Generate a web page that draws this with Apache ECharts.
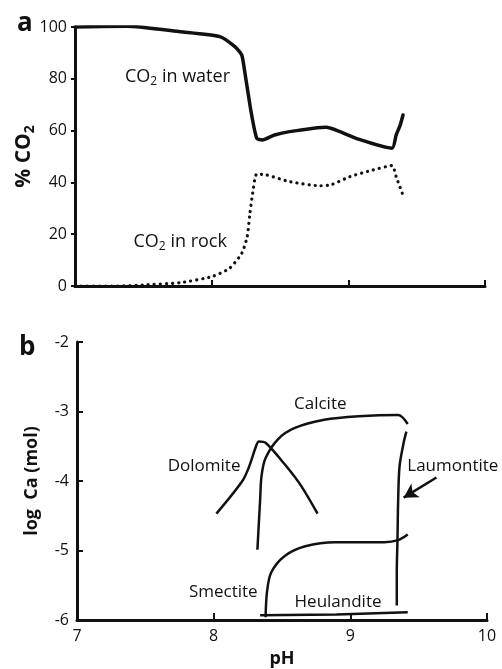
<!DOCTYPE html>
<html>
<head>
<meta charset="utf-8">
<script src="https://cdn.jsdelivr.net/npm/echarts@6/dist/echarts.min.js"></script>
<style>
  html, body { margin: 0; padding: 0; background: #fff; }
  #chart { width: 502px; height: 669px; }
</style>
</head>
<body>
<div id="chart"></div>
<script>
// Panel a: share of CO2 held in water vs. trapped in rock, against pH
const waterPH  = [7.00, 7.38, 7.77, 8.06, 8.17, 8.22, 8.24, 8.29, 8.33, 8.37, 8.46, 8.57, 8.84, 8.91, 9.08, 9.32, 9.35, 9.38, 9.40];
const waterPct = [100, 100.3, 98.2, 96.3, 92.4, 89.2, 83.4, 66.8, 57.0, 56.4, 58.3, 59.6, 61.3, 60.2, 56.6, 53.2, 58.3, 62.2, 66.0];

const rockPH  = [7.00, 7.30, 7.50, 7.77, 8.00, 8.13, 8.22, 8.26, 8.28, 8.30, 8.33, 8.40, 8.57, 8.79, 8.87, 9.01, 9.18, 9.32, 9.35, 9.40];
const rockPct = [0, 0, 0.4, 1.3, 3.6, 6.8, 12.6, 19.0, 28.0, 35.8, 43.2, 42.9, 40.3, 38.7, 39.0, 42.2, 44.8, 46.5, 42.2, 35.0];

// Panel b: log Ca (mol) for each mineral
const dolomitePH = [8.02, 8.21, 8.26, 8.31, 8.33, 8.38, 8.52, 8.64, 8.76];
const dolomiteCa = [-4.47, -4.00, -3.79, -3.50, -3.43, -3.45, -3.76, -4.07, -4.47];

const calcitePH = [8.32, 8.34, 8.35, 8.38, 8.47, 8.59, 8.81, 9.06, 9.35, 9.42];
const calciteCa = [-4.99, -4.27, -3.93, -3.67, -3.40, -3.24, -3.12, -3.07, -3.05, -3.18];

const laumontitePH = [9.34, 9.34, 9.345, 9.35, 9.36, 9.39, 9.41];
const laumontiteCa = [-5.79, -5.30, -4.84, -4.27, -3.79, -3.45, -3.29];

const smectitePH = [8.38, 8.39, 8.42, 8.52, 8.67, 8.89, 9.25, 9.35, 9.42];
const smectiteCa = [-5.96, -5.60, -5.32, -5.08, -4.94, -4.88, -4.88, -4.85, -4.77];

const heulanditePH = [8.34, 8.90, 9.42];
const heulanditeCa = [-5.93, -5.92, -5.89];

// Curve labels, placed in data coordinates
const topLabels = [
  { name: 'water', pos: [7.75, 80.7] },
  { name: 'rock',  pos: [7.77, 17.0] }
];
const bottomLabels = [
  { name: 'Calcite',    pos: [8.78, -2.89] },
  { name: 'Dolomite',   pos: [7.93, -3.79] },
  { name: 'Laumontite', pos: [9.75, -3.79] },
  { name: 'Smectite',   pos: [8.07, -5.60] },
  { name: 'Heulandite', pos: [8.91, -5.74] }
];
// Arrow pointing at the Laumontite curve
const arrowFrom = [9.63, -3.95];
const arrowTo   = [9.39, -4.24];

const xTicks = { min: 7, max: 10, interval: 1 };

const zip = (xs, ys) => xs.map((x, i) => [x, ys[i]]);

const INK = '#111';
const FONT = '"Open Sans", "Noto Sans", sans-serif';
const labelText = { fontFamily: FONT, fontSize: 17, color: INK, textBorderWidth: 0, opacity: 1 };

const chart = echarts.init(document.getElementById('chart'), null, { renderer: 'canvas' });

const axisLine = { lineStyle: { color: INK, width: 3 } };
const axisLabel = { color: INK, fontFamily: FONT, fontSize: 16 };

// Text anchored at its data point, centred on it
const centred = { show: true, position: [0, 0], align: 'center', verticalAlign: 'middle' };

const panelLetter = { fontFamily: FONT, fontWeight: 'bold', fontSize: 26, color: INK };

chart.setOption({
  animation: false,
  backgroundColor: '#fff',
  title: [
    { text: 'a', left: 12, top: 6, textStyle: panelLetter },
    { text: 'b', left: 14, top: 330, textStyle: panelLetter }
  ],
  grid: [
    { left: 75, width: 410, top: 27, height: 259 },
    { left: 77, width: 410, top: 342, height: 279 }
  ],
  xAxis: [
    {
      gridIndex: 0, type: 'value', min: xTicks.min, max: xTicks.max, interval: xTicks.interval,
      axisLine, axisTick: { inside: true, length: 6, lineStyle: { color: INK, width: 2 } },
      axisLabel: { show: false }, splitLine: { show: false }
    },
    {
      gridIndex: 1, type: 'value', min: xTicks.min, max: xTicks.max, interval: xTicks.interval,
      axisLine, axisTick: { inside: true, length: 7, lineStyle: { color: INK, width: 2 } },
      axisLabel: Object.assign({ margin: 8 }, axisLabel), splitLine: { show: false },
      name: 'pH', nameLocation: 'middle', nameGap: 30, nameMoveOverlap: false,
      nameTextStyle: { fontFamily: FONT, fontWeight: 'bold', fontSize: 18, color: INK }
    }
  ],
  yAxis: [
    {
      gridIndex: 0, type: 'value', min: 0, max: 100, interval: 20,
      axisLine, axisTick: { inside: false, length: 4, lineStyle: { color: INK, width: 2 } },
      axisLabel: Object.assign({ margin: 8 }, axisLabel), splitLine: { show: false },
      name: '{m|% CO}{s|2}', nameLocation: 'middle', nameGap: 38, nameRotate: 90, nameMoveOverlap: false,
      nameTextStyle: {
        rich: {
          m: { fontFamily: FONT, fontWeight: 'bold', fontSize: 21, color: INK, lineHeight: 26 },
          s: { fontFamily: FONT, fontWeight: 'bold', fontSize: 14, color: INK, lineHeight: 26, verticalAlign: 'bottom', padding: [9, 0, 0, 0] }
        }
      }
    },
    {
      gridIndex: 1, type: 'value', min: -6, max: -2, interval: 1,
      axisLine, axisTick: { inside: true, length: 6, lineStyle: { color: INK, width: 2 } },
      axisLabel: Object.assign({ margin: 8 }, axisLabel), splitLine: { show: false },
      name: 'log  Ca (mol)', nameLocation: 'middle', nameGap: 36, nameRotate: 90, nameMoveOverlap: false,
      nameTextStyle: { fontFamily: FONT, fontWeight: 'bold', fontSize: 18, color: INK }
    }
  ],
  series: [
    {
      name: 'CO2 in water', type: 'line', xAxisIndex: 0, yAxisIndex: 0,
      data: zip(waterPH, waterPct), showSymbol: false, smooth: 0.2,
      lineStyle: { color: INK, width: 3.5, cap: 'round', join: 'round' }
    },
    {
      name: 'CO2 in rock', type: 'line', xAxisIndex: 0, yAxisIndex: 0,
      data: zip(rockPH, rockPct), showSymbol: false, smooth: 0.2,
      lineStyle: { color: INK, width: 3.2, type: [0.1, 6], cap: 'round' }
    },
    {
      type: 'scatter', xAxisIndex: 0, yAxisIndex: 0, symbolSize: 0, silent: true,
      data: topLabels.map(d => ({ value: d.pos, name: d.name })),
      label: Object.assign({}, centred, {
        formatter: p => '{a|CO}{s|2}{a| in ' + p.name + '}',
        rich: {
          a: Object.assign({}, labelText, { fontSize: 18, lineHeight: 22 }),
          s: Object.assign({}, labelText, { fontSize: 12, lineHeight: 22, verticalAlign: 'bottom', padding: [8, 0, 0, 0] })
        }
      })
    },
    {
      name: 'Dolomite', type: 'line', xAxisIndex: 1, yAxisIndex: 1,
      data: zip(dolomitePH, dolomiteCa), showSymbol: false, smooth: 0.3,
      lineStyle: { color: INK, width: 2.5 }
    },
    {
      name: 'Calcite', type: 'line', xAxisIndex: 1, yAxisIndex: 1,
      data: zip(calcitePH, calciteCa), showSymbol: false, smooth: 0.3,
      lineStyle: { color: INK, width: 2.5 }
    },
    {
      name: 'Laumontite', type: 'line', xAxisIndex: 1, yAxisIndex: 1,
      data: zip(laumontitePH, laumontiteCa), showSymbol: false, smooth: 0.3,
      lineStyle: { color: INK, width: 2.5 }
    },
    {
      name: 'Smectite', type: 'line', xAxisIndex: 1, yAxisIndex: 1,
      data: zip(smectitePH, smectiteCa), showSymbol: false, smooth: 0.3,
      lineStyle: { color: INK, width: 2.5 }
    },
    {
      name: 'Heulandite', type: 'line', xAxisIndex: 1, yAxisIndex: 1,
      data: zip(heulanditePH, heulanditeCa), showSymbol: false,
      lineStyle: { color: INK, width: 2.5 },
      markLine: {
        silent: true, symbol: ['none', 'arrow'], symbolSize: [12, 14],
        lineStyle: { color: INK, width: 2.5, type: 'solid' },
        label: { show: false },
        data: [[{ coord: arrowFrom }, { coord: arrowTo }]]
      }
    },
    {
      type: 'scatter', xAxisIndex: 1, yAxisIndex: 1, symbolSize: 0, silent: true,
      data: bottomLabels.map(d => ({ value: d.pos, name: d.name })),
      label: Object.assign({}, centred, labelText, { formatter: '{b}' })
    }
  ]
});
</script>
</body>
</html>
